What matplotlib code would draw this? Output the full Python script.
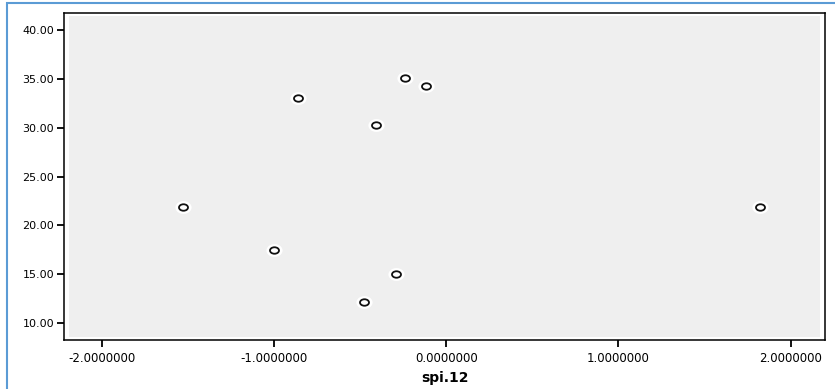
import numpy as np
import matplotlib
matplotlib.use("Agg")
import matplotlib.pyplot as plt
from matplotlib.path import Path
from matplotlib.transforms import Affine2D
from matplotlib.patches import Rectangle

# data
spi12 = [-1.53, -1.00, -0.86, -0.48, -0.41, -0.29, -0.24, -0.12, 1.82]
yvals = [21.9, 17.5, 33.0, 12.1, 30.3, 15.0, 35.1, 34.3, 21.9]
xticks = [-2, -1, 0, 1, 2]
yticks = [10, 15, 20, 25, 30, 35, 40]

fig = plt.figure(figsize=(8.35, 3.89), dpi=100)
fig.patch.set_facecolor("white")

# light blue frame around the whole picture
fig.patches.append(Rectangle((7 / 835, -0.05), 1.1, 1.05 - 3 / 389, transform=fig.transFigure,
                             fill=False, edgecolor="#5b9bd5", linewidth=1.5))

ax = fig.add_axes([64 / 835, 49 / 389, 761 / 835, 327 / 389])
ax.set_facecolor("white")
# grey data area, inset from the black frame
ax.add_patch(Rectangle((0.006, 0.009), 0.988, 0.982, transform=ax.transAxes,
                       facecolor="#efefef", edgecolor="none", zorder=0))

ellipse = Path.unit_circle().transformed(Affine2D().scale(1.0, 0.72))
ax.scatter(spi12, yvals, s=75, marker=ellipse, facecolor="white", edgecolor="white",
           linewidth=3, zorder=2)
ax.scatter(spi12, yvals, s=42, marker=ellipse, facecolor="white", edgecolor="#111111",
           linewidth=1.3, zorder=3)

ax.set_xlim(-2.22, 2.20)
ax.set_ylim(8.26, 41.74)
ax.set_xticks(xticks)
ax.set_xticklabels([f"{v:.7f}" for v in xticks])
ax.set_yticks(yticks)
ax.set_yticklabels([f"{v:.2f}" for v in yticks])
ax.tick_params(axis="both", direction="out", length=5, width=1.3, labelsize=8, colors="black")
ax.tick_params(axis="x", pad=4, labelsize=8.5)
ax.tick_params(axis="y", pad=2)
for s in ax.spines.values():
    s.set_linewidth(1.1)
    s.set_color("black")

ax.set_xlabel("spi.12", fontsize=10, fontweight="bold", labelpad=4)

fig.savefig("out.png", dpi=100)
